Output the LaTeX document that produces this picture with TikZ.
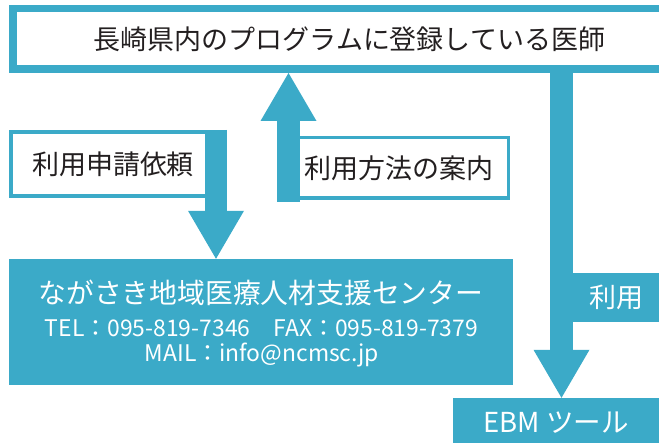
\documentclass[tikz,border=0pt]{standalone}
\usepackage{fontspec}
\setmainfont{Noto Sans CJK JP}
\usetikzlibrary{arrows.meta,calc}
\definecolor{ebmblue}{RGB}{59,170,200}
\definecolor{ink}{RGB}{35,31,32}
\begin{document}
\begin{tikzpicture}[x=1pt,y=-1pt,
  jp/.style={font=\fontsize{27}{30}\selectfont, text=ink},
  outbox/.style={draw=ebmblue, fill=white, inner sep=0pt},
  fillbox/.style={fill=ebmblue, inner sep=0pt, text=white},
  fatarrow/.style={draw=ebmblue, line width=22pt, -{Triangle[length=48pt,width=56pt,line width=0pt]}},
]
\useasboundingbox (0,0) rectangle (659,443);
\fill[white] (0,0) rectangle (659,443);

\node[outbox, line width=7.5pt, minimum width=673.5pt, minimum height=60.5pt, jp] (top) at (349.5,39) {長崎県内のプログラムに登録している医師};

\node[outbox, line width=4pt, minimum width=204pt, minimum height=64pt, jp] (req) at (113,164) {利用申請依頼};

\node[outbox, line width=3.5pt, minimum width=218.5pt, minimum height=60.5pt, jp] (guide) at (399,168) {利用方法の案内};

\node[fillbox, minimum width=504pt, minimum height=126pt] (cbox) at (261,322) {};
\node[text=white, font=\fontsize{27.8}{30}\selectfont] (c1) at (261,293) {ながさき地域医療人材支援センター};
\node[text=white, font=\fontsize{22.9}{25}\selectfont] (c2) at (261.5,328) {TEL：095-819-7346　FAX：095-819-7379};
\node[text=white, font=\fontsize{22.9}{25}\selectfont] (c3) at (262,355) {MAIL：info@ncmsc.jp};

\node[fillbox, minimum width=86pt, minimum height=49pt, font=\fontsize{27}{30}\selectfont] (use) at (616,297.5) {利用};
\node[fillbox, minimum width=206pt, minimum height=50pt, font=\fontsize{27.5}{30}\selectfont] (ebm) at (556,423) {EBM ツール};

\coordinate (a1) at (216,130);
\draw[fatarrow] (a1) -- (a1 |- cbox.north);
\coordinate (a2) at (288.5,202);
\draw[fatarrow, line width=23pt] (a2) -- (a2 |- top.south);
\coordinate (a3) at (561.5,0);
\draw[fatarrow, line width=23pt] (a3 |- top.south) -- (a3 |- ebm.north);
\end{tikzpicture}
\end{document}
